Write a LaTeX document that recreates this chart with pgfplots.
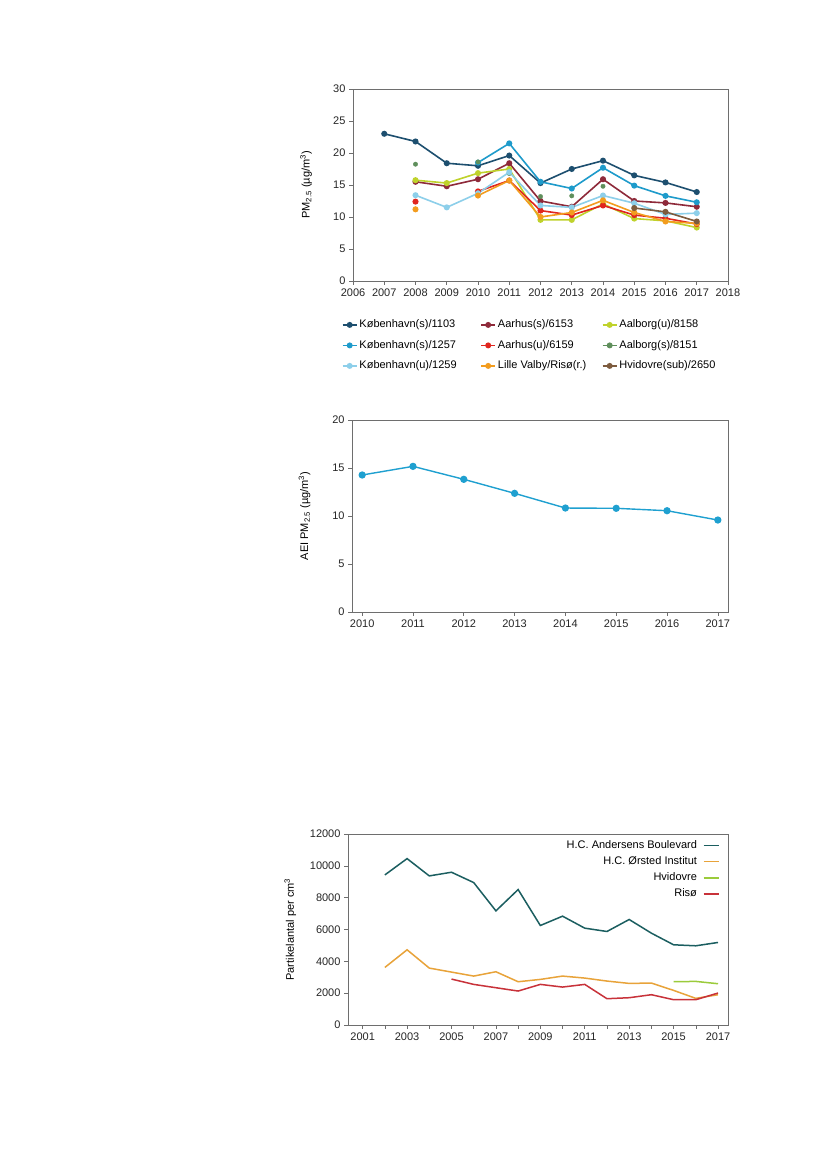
\documentclass[border=0pt]{standalone}
\usepackage{fontspec}
\setmainfont{Liberation Sans}
\usepackage{pgfplots}
\pgfplotsset{compat=1.18}

\definecolor{kbhA}{HTML}{1D4F6F}
\definecolor{kbhB}{HTML}{1E9BCB}
\definecolor{kbhC}{HTML}{8DCFEA}
\definecolor{aarS}{HTML}{8E2A3A}
\definecolor{aarU}{HTML}{E0261F}
\definecolor{lvr}{HTML}{F39C1E}
\definecolor{aalU}{HTML}{BFD22B}
\definecolor{aalS}{HTML}{5F8F5C}
\definecolor{hvi}{HTML}{7D5B3E}
\definecolor{aei}{HTML}{1FA0D0}
\definecolor{hcab}{HTML}{1B5E60}
\definecolor{hcoe}{HTML}{E8A33A}
\definecolor{hvid}{HTML}{9BCB3B}
\definecolor{riso}{HTML}{C8323A}
\definecolor{axgray}{HTML}{6E6E6E}

\pgfplotsset{
  pagechart/.style={
    scale only axis,
    anchor=south west,
    axis line style={draw=axgray, line width=0.6pt},
    tick align=outside,
    tick pos=left,
    major tick length=4pt,
    minor tick length=4pt,
    tick style={draw=axgray, line width=0.6pt},
    font=\fontsize{11}{13}\selectfont,
    tick label style={font=\fontsize{11}{13}\selectfont, text=black!85},
    /pgf/number format/assume math mode=true,
    /pgf/number format/1000 sep={},
    scaled ticks=false,
    unbounded coords=jump,
  },
  smallmark/.style={line width=1.6pt, mark=*, mark size=2.2pt, mark options={solid}},
}

\begin{document}
\begin{tikzpicture}
\fill[white] (0pt,0pt) rectangle (826pt,1169pt);

% ---------- chart 1: PM2.5 by station ----------
\begin{axis}[
  pagechart,
  at={(353pt,888pt)},
  width=375pt, height=192pt,
  xmin=2006, xmax=2018,
  ymin=0, ymax=30,
  xtick={2006,2007,...,2018},
  ytick={0,5,...,30},
  ylabel={PM\textsubscript{2.5} (µg/m\textsuperscript{3})},
  ylabel style={at={(rel axis cs:-0.125,0.5)}, anchor=center},
  legend columns=3,
  legend style={at={(rel axis cs:-0.03,-0.19)}, anchor=north west,
    draw=none, fill=none, inner sep=0pt,
    nodes={inner sep=2pt, text height=8pt, text depth=2.5pt},
    row sep=6pt, font=\fontsize{11}{13}\selectfont},
  legend cell align=left,
  legend image code/.code={\draw[mark repeat=2,mark phase=2,#1,line width=1.5pt] plot coordinates {(0pt,0pt) (7pt,0pt) (14pt,0pt)};},
]
\addplot[kbhA, smallmark] coordinates {
  (2007,23.0) (2008,21.8) (2009,18.4) (2010,18.0) (2011,19.6) (2012,15.3)
  (2013,17.5) (2014,18.8) (2015,16.5) (2016,15.4) (2017,13.9)};
\addlegendentry{\makebox[119pt][l]{København(s)/1103}}
\addplot[aarS, smallmark] coordinates {
  (2008,15.5) (2009,14.8) (2010,15.9) (2011,18.4) (2012,12.5)
  (2013,11.6) (2014,15.9) (2015,12.5) (2016,12.2) (2017,11.6)};
\addlegendentry{\makebox[102pt][l]{Aarhus(s)/6153}}
\addplot[aalU, smallmark] coordinates {
  (2008,15.75) (2009,15.3) (2010,16.85) (2011,17.5) (2012,9.55)
  (2013,9.55) (2014,12.05) (2015,9.75) (2016,9.4) (2017,8.35)};
\addlegendentry{Aalborg(u)/8158}
\addplot[kbhB, smallmark] coordinates {
  (2010,18.5) (2011,21.5) (2012,15.5) (2013,14.45) (2014,17.7)
  (2015,14.9) (2016,13.3) (2017,12.3)};
\addlegendentry{\makebox[119pt][l]{København(s)/1257}}
\addplot[aarU, smallmark] coordinates {
  (2008,12.4) (2009,nan) (2010,14.0) (2011,15.7) (2012,11.0)
  (2013,10.3) (2014,11.8) (2015,10.3) (2016,9.8) (2017,8.9)};
\addlegendentry{\makebox[102pt][l]{Aarhus(u)/6159}}
\addplot[aalS, only marks, mark=*, mark size=2.2pt, forget plot] coordinates {
  (2008,18.25) (2010,18.6) (2011,16.8) (2012,13.2) (2013,13.3) (2014,14.8)};
\addlegendimage{aalS, smallmark}
\addlegendentry{Aalborg(s)/8151}
\addplot[kbhC, smallmark] coordinates {
  (2008,13.4) (2009,11.5) (2010,13.7) (2011,17.0) (2012,11.8)
  (2013,11.5) (2014,13.35) (2015,12.15) (2016,10.4) (2017,10.6)};
\addlegendentry{\makebox[119pt][l]{København(u)/1259}}
\addplot[lvr, smallmark] coordinates {
  (2008,11.2) (2009,nan) (2010,13.35) (2011,15.7) (2012,10.0)
  (2013,10.7) (2014,12.6) (2015,10.7) (2016,9.3) (2017,9.0)};
\addlegendentry{\makebox[102pt][l]{Lille Valby/Risø(r.)}}
\addplot[hvi, smallmark] coordinates {
  (2015,11.4) (2016,10.8) (2017,9.3)};
\addlegendentry{Hvidovre(sub)/2650}
\end{axis}

% ---------- chart 2: AEI PM2.5 ----------
\begin{axis}[
  pagechart,
  at={(352pt,557pt)},
  width=376pt, height=192pt,
  xmin=2009.8, xmax=2017.2,
  ymin=0, ymax=20,
  xtick={2010,2011,...,2017},
  ytick={0,5,...,20},
  ylabel={AEI PM\textsubscript{2.5} (µg/m\textsuperscript{3})},
  ylabel style={at={(rel axis cs:-0.126,0.5)}, anchor=center},
]
\addplot[aei, line width=1.4pt, mark=*, mark size=2.9pt] coordinates {
  (2010,14.27) (2011,15.17) (2012,13.82) (2013,12.36)
  (2014,10.83) (2015,10.8) (2016,10.55) (2017,9.58)};
\end{axis}

% ---------- chart 3: particle number ----------
\begin{axis}[
  pagechart,
  at={(348pt,144pt)},
  width=380pt, height=191pt,
  xmin=2000.34, xmax=2017.45,
  ymin=0, ymax=12000,
  xtick={2001,2003,...,2017},
  minor xtick={2002,2004,...,2016},
  ytick={0,2000,...,12000},
  ylabel={Partikelantal per cm\textsuperscript{3}},
  ylabel style={at={(rel axis cs:-0.152,0.5)}, anchor=center},
  legend plot pos=right,
  legend cell align=right,
  legend style={at={(rel axis cs:0.978,0.98)}, anchor=north east,
    draw=none, fill=none, inner sep=0pt,
    nodes={inner sep=2pt, text height=8pt, text depth=2.5pt},
    row sep=1.8pt, font=\fontsize{11}{13}\selectfont},
  legend image code/.code={\path (-4pt,0pt); \draw[#1,line width=1.5pt] (0pt,0pt) -- (15pt,0pt);},
]
\addplot[hcab, line width=1.5pt] coordinates {
  (2002,9429) (2003,10453) (2004,9367) (2005,9597) (2006,8948) (2007,7171)
  (2008,8509) (2009,6251) (2010,6837) (2011,6084) (2012,5875) (2013,6628)
  (2014,5770) (2015,5039) (2016,4976) (2017,5185)};
\addlegendentry{H.C. Andersens Boulevard}
\addplot[hcoe, line width=1.5pt] coordinates {
  (2002,3617) (2003,4725) (2004,3575) (2005,3324) (2006,3073) (2007,3345)
  (2008,2718) (2009,2864) (2010,3073) (2011,2948) (2012,2760) (2013,2613)
  (2014,2634) (2015,2174) (2016,1673) (2017,1903)};
\addlegendentry{H.C. Ørsted Institut}
\addplot[hvid, line width=1.5pt] coordinates {
  (2015,2718) (2016,2739) (2017,2593)};
\addlegendentry{Hvidovre}
\addplot[riso, line width=1.5pt] coordinates {
  (2005,2885) (2006,2551) (2007,2342) (2008,2133) (2009,2551) (2010,2383)
  (2011,2551) (2012,1652) (2013,1714) (2014,1903) (2015,1589) (2016,1589)
  (2017,2007)};
\addlegendentry{Risø}
\end{axis}
\end{tikzpicture}
\end{document}
